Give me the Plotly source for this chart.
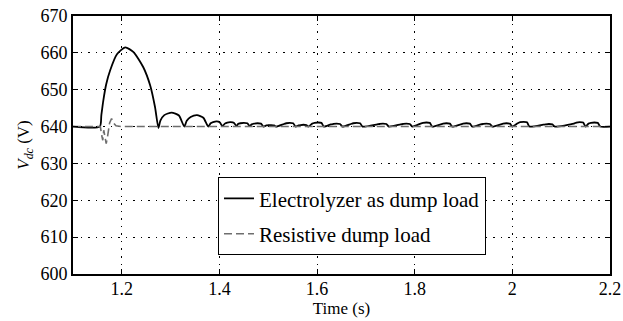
import plotly.graph_objects as go

# Electrolyzer as dump load (black solid)
t_elec = [1.100, 1.155, 1.158, 1.162, 1.168, 1.176, 1.190, 1.207, 1.224, 1.244, 1.258, 1.268, 1.275,
          1.279, 1.287, 1.302, 1.317, 1.328,
          1.333, 1.341, 1.354, 1.367, 1.377,
          1.382, 1.387, 1.394, 1.401, 1.406,
          1.411, 1.416, 1.423, 1.430, 1.435,
          1.438, 1.443, 1.450, 1.457, 1.462,
          1.466, 1.471, 1.478, 1.485, 1.490,
          1.496, 1.500, 1.506, 1.512, 1.516,
          1.532, 1.537, 1.544, 1.551, 1.556,
          1.562, 1.566, 1.572, 1.578, 1.582,
          1.590, 1.595, 1.602, 1.609, 1.614,
          1.628, 1.633, 1.640, 1.647, 1.652,
          1.669, 1.674, 1.681, 1.688, 1.693,
          1.723, 1.728, 1.735, 1.742, 1.747,
          1.771, 1.776, 1.783, 1.790, 1.795,
          1.812, 1.817, 1.824, 1.831, 1.836,
          1.853, 1.858, 1.865, 1.872, 1.877,
          1.894, 1.899, 1.906, 1.913, 1.918,
          1.935, 1.940, 1.947, 1.954, 1.959,
          1.976, 1.981, 1.988, 1.995, 2.000,
          2.011, 2.016, 2.023, 2.030, 2.035,
          2.063, 2.068, 2.075, 2.082, 2.087,
          2.126, 2.131, 2.138, 2.145, 2.150,
          2.156, 2.161, 2.168, 2.175, 2.180,
          2.200]
v_elec = [640.0, 640.0, 643.0, 647.0, 651.5, 655.2, 659.6, 661.5, 660.2, 656.1, 651.2, 645.3, 639.6,
          641.6, 643.1, 643.8, 643.0, 640.0,
          641.6, 642.6, 643.1, 642.4, 640.0,
          640.9, 641.2, 641.4, 641.1, 640.1,
          640.8, 641.1, 641.2, 641.0, 640.1,
          640.7, 640.9, 641.0, 640.9, 640.1,
          640.6, 640.8, 640.9, 640.8, 640.0,
          640.3, 640.4, 640.4, 640.3, 640.0,
          640.7, 640.9, 641.0, 640.9, 640.0,
          640.3, 640.4, 640.5, 640.4, 640.0,
          640.8, 641.0, 641.1, 641.0, 640.0,
          640.6, 640.7, 640.8, 640.7, 640.0,
          640.7, 640.9, 641.0, 640.9, 640.0,
          640.6, 640.7, 640.8, 640.7, 640.0,
          640.6, 640.7, 640.8, 640.7, 640.0,
          640.8, 641.0, 641.1, 641.0, 640.0,
          640.6, 640.8, 640.9, 640.8, 640.0,
          640.6, 640.8, 640.9, 640.8, 640.0,
          640.6, 640.7, 640.8, 640.7, 640.0,
          640.6, 640.8, 640.9, 640.8, 640.0,
          640.9, 641.2, 641.3, 641.2, 640.0,
          640.5, 640.6, 640.7, 640.6, 640.0,
          640.8, 641.1, 641.2, 641.1, 640.0,
          640.8, 641.0, 641.1, 641.0, 640.0,
          640.0]

# Resistive dump load (gray dashed)
t_res = [1.100, 1.156, 1.159, 1.161, 1.163, 1.165, 1.168, 1.171, 1.175, 1.179, 1.183, 1.188, 1.200, 2.200]
v_res = [640.0, 640.0, 637.5, 636.3, 639.0, 637.0, 635.4, 637.5, 641.0, 642.2, 641.0, 640.2, 640.0, 640.0]

x_ticks = [1.2, 1.4, 1.6, 1.8, 2.0, 2.2]
x_tick_labels = ["1.2", "1.4", "1.6", "1.8", "2", "2.2"]
y_ticks = [600, 610, 620, 630, 640, 650, 660, 670]

FONT = "Liberation Serif, DejaVu Serif"

fig = go.Figure()
fig.add_trace(go.Scatter(
    x=t_elec, y=v_elec, mode="lines", name="Electrolyzer as dump load",
    line=dict(color="black", width=1.8, shape="spline", smoothing=0.6),
    legendgroup="a"))
fig.add_trace(go.Scatter(
    x=t_res, y=v_res, mode="lines", name="Resistive dump load",
    line=dict(color="#6e6e6e", width=1.6, dash="8px,4px"),
    legendgroup="b"))

axis_common = dict(
    showline=True, linecolor="black", linewidth=2, mirror="ticks",
    ticks="inside", ticklen=5, tickcolor="black", tickwidth=1,
    showgrid=True, gridcolor="black", gridwidth=1.3, griddash="1.5px,6px",
    zeroline=False, automargin=False,
    tickfont=dict(family=FONT, size=18, color="black"),
)

fig.update_xaxes(
    range=[1.1, 2.2], tickvals=x_ticks, ticktext=x_tick_labels,
    ticklabelstandoff=-3,
    title=dict(text="Time (s)", font=dict(family=FONT, size=17, color="black"), standoff=0),
    **axis_common)
fig.update_yaxes(
    range=[600, 670], tickvals=y_ticks,
    title=dict(text="<i>V</i><sub><i>dc</i></sub> (V)", font=dict(family=FONT, size=17, color="black"), standoff=6),
    **axis_common)

fig.update_layout(
    width=623, height=321,
    margin=dict(l=73, r=13, t=16, b=47),
    paper_bgcolor="white", plot_bgcolor="white",
    font=dict(family=FONT, size=17, color="black"),
    legend=dict(
        x=0.27, y=0.375, xanchor="left", yanchor="top",
        bgcolor="white", bordercolor="black", borderwidth=1,
        font=dict(family=FONT, size=21, color="black"),
        tracegroupgap=5, traceorder="grouped",
    ),
    showlegend=True,
)

fig.write_html("out.html")
